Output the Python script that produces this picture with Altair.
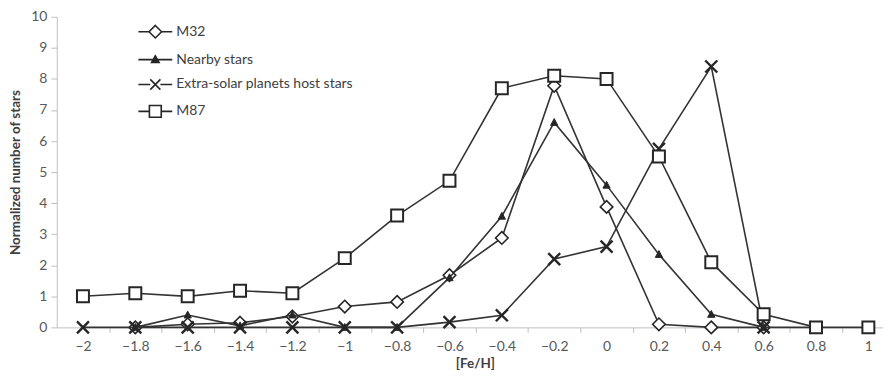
import altair as alt
import pandas as pd

feh = [-2.0, -1.8, -1.6, -1.4, -1.2, -1.0, -0.8, -0.6, -0.4, -0.2, 0.0, 0.2, 0.4, 0.6, 0.8, 1.0]
m32 = [None, 0, 0.1, 0.15, 0.35, 0.67, 0.82, 1.68, 2.88, 7.78, 3.88, 0.1, 0, 0, None, None]
nearby = [None, 0, 0.4, 0.05, 0.4, 0, 0, 1.6, 3.58, 6.6, 4.58, 2.35, 0.42, 0, None, None]
exo = [0, 0, 0, 0, 0, 0, 0, 0.17, 0.39, 2.2, 2.6, 5.75, 8.4, 0, 0, None]
m87 = [1.0, 1.1, 1.0, 1.18, 1.1, 2.23, 3.6, 4.72, 7.7, 8.1, 8.0, 5.5, 2.1, 0.42, 0, 0]

series_names = ["M32", "Nearby stars", "Extra-solar planets host stars", "M87"]
series_vals = [m32, nearby, exo, m87]

rows = []
for name, vals in zip(series_names, series_vals):
    for x, v in zip(feh, vals):
        if v is not None:
            rows.append({"feh": x, "value": v, "series": name})
df = pd.DataFrame(rows)

# marker shapes (custom paths, unit = sqrt(size)/2)
point_paths = {
    "M32": "M0,-1.05L1.05,0L0,1.05L-1.05,0Z",
    "Nearby stars": "M0,-0.65L0.6,0.5L-0.6,0.5Z",
    "Extra-solar planets host stars": "M-1,-1L1,1M-1,1L1,-1",
    "M87": "M-1,-1H1V1H-1Z",
}
point_fill = {
    "M32": "white",
    "Nearby stars": "#262626",
    "Extra-solar planets host stars": "white",
    "M87": "white",
}
point_sw = {
    "M32": 1.6,
    "Nearby stars": 1.0,
    "Extra-solar planets host stars": 2.4,
    "M87": 2.0,
}
legend_paths = [
    "M-1,0H-0.37M0.37,0H1M0,-0.37L0.37,0L0,0.37L-0.37,0Z",
    "M-1,0H1M0,-0.22L0.22,0.17L-0.22,0.17Z",
    "M-1,0H-0.3M0.3,0H1M-0.3,-0.3L0.3,0.3M-0.3,0.3L0.3,-0.3",
    "M-1,0H-0.35M0.35,0H1M-0.35,-0.35H0.35V0.35H-0.35Z",
]
legend_fills = ["white", "#262626", "white", "white"]
legend_strokes = ["#262626", "#262626", "#262626", "#262626"]

W, H = 830, 312
PX_PER_UNIT = 263.0
HALF_STEP = 0.1 * PX_PER_UNIT

x_scale = alt.Scale(domain=[-2.1, -2.1 + W / PX_PER_UNIT], nice=False, zero=False)
y_scale = alt.Scale(domain=[0, 10], nice=False, zero=True)

x_enc = alt.X(
    "feh:Q",
    scale=x_scale,
    axis=alt.Axis(
        values=feh,
        format="~g",
        tickOffset=HALF_STEP,
        labelOffset=-HALF_STEP,
        tickSize=5,
        labelPadding=7,
        title="[Fe/H]",
        titleX=420,
        titlePadding=3,
        grid=False,
    ),
)
y_enc = alt.Y(
    "value:Q",
    scale=y_scale,
    axis=alt.Axis(
        values=list(range(0, 11)),
        tickSize=6,
        labelPadding=4,
        title="Normalized number of stars",
        titlePadding=8,
        grid=False,
    ),
)

leg = alt.Legend(
    title=None,
    orient="none",
    legendX=81,
    legendY=-3,
    symbolSize=1156,
    rowPadding=-7.5,
    labelOffset=3,
    symbolStrokeWidth=1.6,
    padding=0,
    labelLimit=400,
)

legend_layer = alt.Chart(df).mark_point(size=1, filled=True, opacity=1).encode(
    x=x_enc,
    y=y_enc,
    shape=alt.Shape("series:N", scale=alt.Scale(domain=series_names, range=legend_paths), legend=leg),
    fill=alt.Fill("series:N", scale=alt.Scale(domain=series_names, range=legend_fills), legend=leg),
    stroke=alt.Stroke("series:N", scale=alt.Scale(domain=series_names, range=legend_strokes), legend=leg),
)

layers = [legend_layer]
for name in series_names:
    sub = alt.Chart(df).transform_filter(alt.datum.series == name)
    line = sub.mark_line(color="#333333", strokeWidth=1.6).encode(x=x_enc, y=y_enc)
    pts = sub.mark_point(
        shape=point_paths[name],
        size=144,
        filled=True,
        fill=point_fill[name],
        stroke="#262626",
        strokeWidth=point_sw[name],
        opacity=1,
    ).encode(x=x_enc, y=y_enc)
    layers += [line, pts]

chart = (
    alt.layer(*layers)
    .properties(
        width=W,
        height=H,
        autosize="none",
        padding={"left": 49, "top": 8, "right": 0, "bottom": 50},
    )
    .configure_view(stroke=None)
    .configure_axis(
        labelFont="Lato",
        labelFontSize=14,
        labelColor="#595959",
        titleFont="Lato",
        titleFontSize=13.5,
        titleFontWeight="bold",
        titleColor="#404040",
        domainColor="#bfbfbf",
        tickColor="#bfbfbf",
        domainWidth=1,
    )
    .configure_legend(labelFont="Lato", labelFontSize=14, labelColor="#404040")
)

chart.save("out.html", embed_options={"renderer": "svg", "actions": False})
